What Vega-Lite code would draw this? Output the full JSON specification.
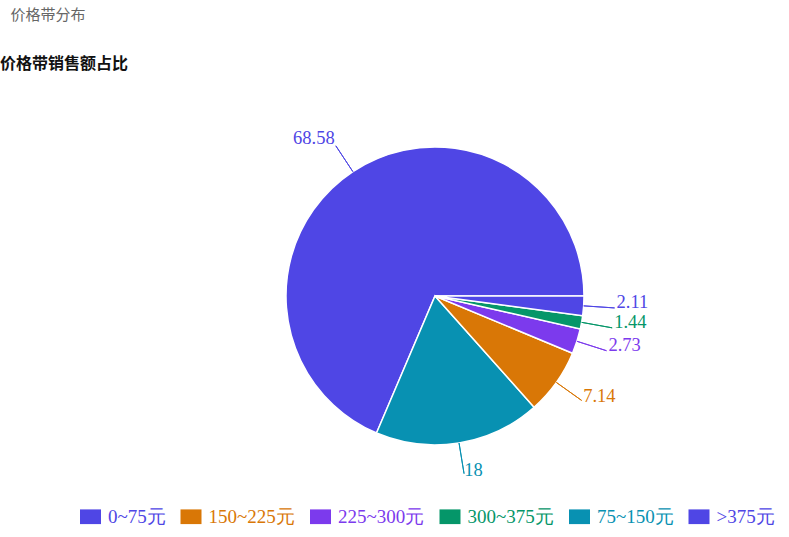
{
  "$schema": "https://vega.github.io/schema/vega-lite/v6.json",
  "autosize": "none",
  "padding": {"left": 85, "top": 80, "right": 4, "bottom": 25},
  "width": 700,
  "height": 432,
  "background": "#ffffff",
  "config": {"view": {"stroke": null}},
  "title": {
    "text": "\u200b\u2002\u2009价格带分布",
    "subtitle": "价格带销售额占比",
    "anchor": "start",
    "frame": "group",
    "dx": -85,
    "offset": 8,
    "font": "Noto Sans CJK SC",
    "fontSize": 15,
    "fontWeight": "normal",
    "color": "#666666",
    "subtitleFont": "Noto Sans CJK SC",
    "subtitleFontSize": 16,
    "subtitleFontWeight": "bold",
    "subtitleColor": "#111111",
    "subtitlePadding": 33
  },
  "data": {
    "values": [
      {"cat": "0~75元", "value": 68.58, "ord": 1},
      {"cat": "75~150元", "value": 18, "ord": 2},
      {"cat": "150~225元", "value": 7.14, "ord": 3},
      {"cat": "225~300元", "value": 2.73, "ord": 4},
      {"cat": "300~375元", "value": 1.44, "ord": 5},
      {"cat": ">375元", "value": 2.11, "ord": 6}
    ]
  },
  "resolve": {"scale": {"theta": "independent"}},
  "layer": [
    {
      "mark": {"type": "arc", "radius": 149, "stroke": "#ffffff", "strokeWidth": 1.5},
      "encoding": {
        "theta": {"field": "value", "type": "quantitative", "stack": true, "scale": {"domain": [0, 100], "range": [1.5707963, 7.8539816]}},
        "order": {"field": "ord", "sort": "descending"},
        "color": {
          "field": "cat", "type": "nominal",
          "scale": {
            "domain": ["0~75元", "150~225元", "225~300元", "300~375元", "75~150元", ">375元"],
            "range": ["#4f46e5", "#d97706", "#7c3aed", "#059669", "#0891b2", "#4f46e5"]
          },
          "legend": {
            "orient": "none", "direction": "horizontal", "columns": 6,
            "legendX": -5, "legendY": 426, "title": null, "padding": 0,
            "symbolType": "M-1,-0.7H1V0.7H-1Z", "symbolSize": 441,
            "symbolStrokeWidth": 0, "symbolOpacity": 1,
            "labelFont": "Liberation Serif", "labelFontSize": 19, "labelOffset": 7,
            "labelColor": {"expr": "scale('color', datum.value)"},
            "columnPadding": 14.5, "labelLimit": 200
          }
        }
      }
    },
    {
      "transform": [{"filter": "datum.cat != '0~75元'"}],
      "mark": {"type": "arc", "filled": false, "radius": 180, "radius2": 149, "padAngle": 3.1416, "strokeWidth": 1},
      "encoding": {
        "theta": {"field": "value", "type": "quantitative", "stack": true, "scale": {"domain": [0, 100], "range": [1.5707963, 7.8539816]}},
        "order": {"field": "ord", "sort": "descending"},
        "color": {"field": "cat", "type": "nominal", "legend": null}
      }
    },
    {
      "transform": [
        {"filter": "datum.cat != '0~75元'"},
        {"aggregate": [{"op": "sum", "field": "value", "as": "total"}]}
      ],
      "mark": {"type": "arc", "filled": false, "radius": 180, "radius2": 149, "padAngle": 3.1416, "strokeWidth": 1, "stroke": "#4f46e5"},
      "encoding": {
        "theta": {"field": "total", "type": "quantitative", "stack": true, "scale": {"domain": [0, 100], "range": [4.7123890, 10.9955743]}}
      }
    },
    {
      "mark": {"type": "text", "radius": 182, "align": "left", "baseline": "middle", "dy": -6, "font": "Liberation Serif", "fontSize": 18.5},
      "encoding": {
        "theta": {"field": "value", "type": "quantitative", "stack": true, "scale": {"domain": [0, 100], "range": [1.5707963, 7.8539816]}},
        "order": {"field": "ord", "sort": "descending"},
        "color": {"field": "cat", "type": "nominal", "legend": null},
        "text": {"condition": {"test": "datum.cat == '0~75元'", "value": ""}, "field": "value", "type": "quantitative"}
      }
    },
    {
      "mark": {"type": "text", "radius": 182, "align": "right", "baseline": "middle", "dy": -6, "font": "Liberation Serif", "fontSize": 18.5},
      "encoding": {
        "theta": {"field": "value", "type": "quantitative", "stack": true, "scale": {"domain": [0, 100], "range": [1.5707963, 7.8539816]}},
        "order": {"field": "ord", "sort": "descending"},
        "color": {"field": "cat", "type": "nominal", "legend": null},
        "text": {"condition": {"test": "datum.cat != '0~75元'", "value": ""}, "field": "value", "type": "quantitative"}
      }
    }
  ]
}
